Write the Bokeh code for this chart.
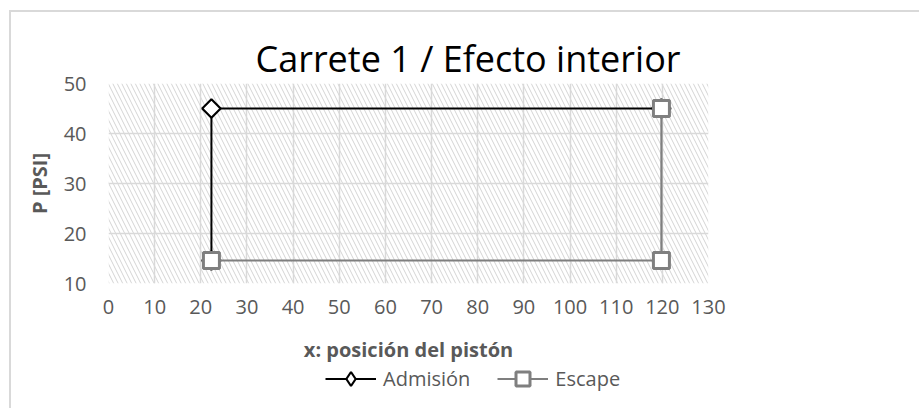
import math
from bokeh.plotting import figure
from bokeh.layouts import column
from bokeh.models import (BoxAnnotation, FixedTicker, Legend, LegendItem, Range1d,
                          ColumnDataSource)
from bokeh.embed import file_html
from bokeh.resources import INLINE

# ---- data ----
title_text = "Carrete 1 / Efecto interior"
x_label = "x: posición del pistón"
y_label = "P [PSI]"
series_names = ["Admisión", "Escape"]
adm_x = [22.3, 22.3, 119.8]
adm_y = [14.6, 45.0, 45.0]
esc_x = [119.8, 119.8, 22.3]
esc_y = [45.0, 14.6, 14.6]
x_ticks = [0, 10, 20, 30, 40, 50, 60, 70, 80, 90, 100, 110, 120, 130]
y_ticks = [10, 20, 30, 40, 50]

FONT = "Open Sans"
GRAY_TXT = "#595959"
ADM_COLOR = "black"
ESC_COLOR = "#7f7f7f"

p = figure(width=908, height=353, frame_width=600, frame_height=200,
           output_backend="svg", toolbar_location=None,
           x_range=Range1d(x_ticks[0], x_ticks[-1]), y_range=Range1d(y_ticks[0], y_ticks[-1]),
           min_border_left=97, min_border_right=211, min_border_top=71, min_border_bottom=82)
p.outline_line_color = None
p.background_fill_color = "white"
p.border_fill_color = "white"

# title
p.title.text = title_text
p.title.text_font = FONT
p.title.text_font_size = "36px"
p.title.text_font_style = "normal"
p.title.text_color = "#000000"
p.title.align = "left"
p.title.offset = 147
p.title.standoff = 2

# hatched plot area
hatch = BoxAnnotation(fill_alpha=0, line_alpha=0, hatch_pattern="\\", hatch_color="#d4d4d4",
                      hatch_scale=9, hatch_weight=1, level="image")
p.add_layout(hatch)

# grids
for g in (p.xgrid, p.ygrid):
    g.grid_line_color = "#d9d9d9"
    g.grid_line_width = 1.5
p.xgrid.ticker = FixedTicker(ticks=x_ticks)
p.ygrid.ticker = FixedTicker(ticks=y_ticks)

# axes
p.xaxis.ticker = FixedTicker(ticks=x_ticks)
p.yaxis.ticker = FixedTicker(ticks=y_ticks)
for ax in (p.xaxis[0], p.yaxis[0]):
    ax.axis_line_color = None
    ax.major_tick_line_color = None
    ax.minor_tick_line_color = None
    ax.major_tick_out = 0
    ax.major_tick_in = 0
    ax.major_label_text_font = FONT
    ax.major_label_text_font_size = "20px"
    ax.major_label_text_color = GRAY_TXT
    ax.axis_label_text_font = FONT
    ax.axis_label_text_font_size = "20px"
    ax.axis_label_text_font_style = "bold"
    ax.axis_label_text_color = GRAY_TXT
p.xaxis.axis_label = x_label
p.yaxis.axis_label = y_label
p.xaxis.major_label_standoff = 16
p.yaxis.major_label_standoff = 22
p.xaxis.axis_label_standoff = 19
p.yaxis.axis_label_standoff = 8


def draw_series(fig, legend_strip=False):
    adm_src = ColumnDataSource(dict(x=adm_x, y=adm_y))
    esc_src = ColumnDataSource(dict(x=esc_x, y=esc_y))
    adm_line = fig.line("x", "y", source=adm_src, line_color=ADM_COLOR, line_width=2)
    if legend_strip:
        adm_mk = fig.scatter("x", "y", source=adm_src, marker="diamond", size=13,
                             fill_color="white", line_color=ADM_COLOR, line_width=2.2)
    else:
        adm_mk = fig.scatter("x", "y", source=adm_src, marker="square", angle=math.pi / 4,
                             size=13, fill_color="white", line_color=ADM_COLOR, line_width=2.2)
    esc_line = fig.line("x", "y", source=esc_src, line_color=ESC_COLOR, line_width=2.2)
    esc_mk = fig.scatter("x", "y", source=esc_src, marker="square", size=16,
                         fill_color="white", line_color=ESC_COLOR, line_width=3)
    return adm_line, adm_mk, esc_line, esc_mk


draw_series(p)

# legend strip (a second canvas below the chart, same horizontal frame)
pl = figure(width=908, height=43, frame_width=600, frame_height=43,
            output_backend="svg", toolbar_location=None,
            x_range=Range1d(1000, 1001), y_range=Range1d(1000, 1001),
            x_axis_type=None, y_axis_type=None,
            min_border_left=97, min_border_right=211, min_border_top=0, min_border_bottom=0)
pl.outline_line_color = None
pl.background_fill_color = "white"
pl.border_fill_color = "white"
la, lm, le, lem = draw_series(pl, legend_strip=True)

legend = Legend(items=[LegendItem(label=series_names[0], renderers=[la, lm]),
                       LegendItem(label=series_names[1], renderers=[le, lem])],
                orientation="horizontal", location=(217, 12),
                glyph_width=51, glyph_height=35, label_standoff=7, spacing=27,
                padding=0, margin=0, border_line_color=None, background_fill_alpha=0,
                label_text_font=FONT, label_text_font_size="20px", label_text_color=GRAY_TXT)
pl.add_layout(legend)

layout = column(p, pl, spacing=0,
                styles={"margin-left": "9px", "margin-top": "10px",
                        "border-left": "2px solid #d9d9d9", "border-top": "2px solid #d9d9d9"})

open("out.html", "w").write(file_html(layout, INLINE))
